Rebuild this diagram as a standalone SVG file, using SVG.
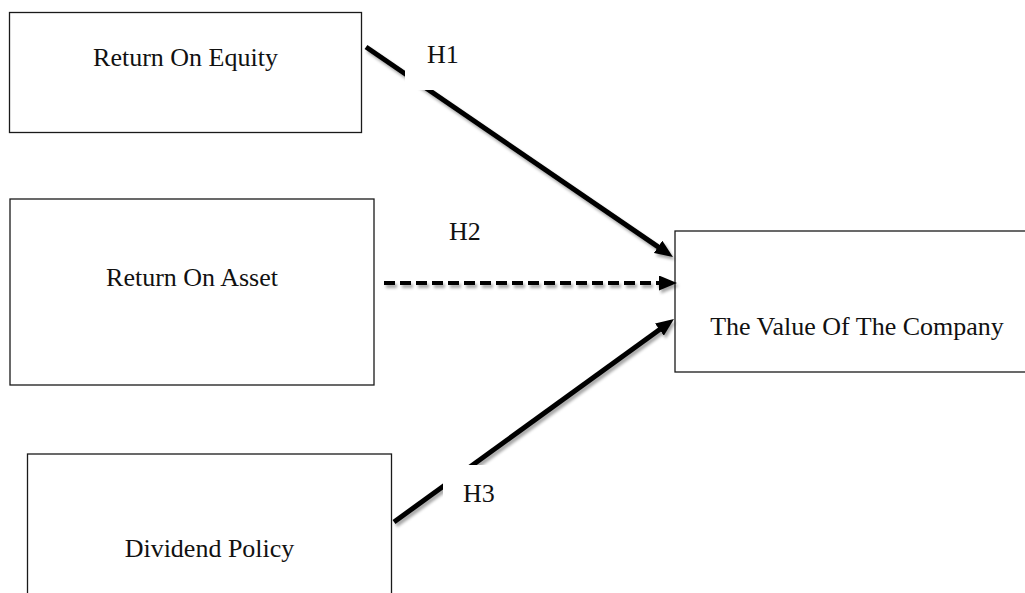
<svg xmlns="http://www.w3.org/2000/svg" width="1025" height="593" viewBox="0 0 1025 593">
  <style>
    .box { fill: #ffffff; stroke: #1a1a1a; stroke-width: 1.3; }
    .label { font-family: "Liberation Serif", "Times New Roman", serif; font-size: 26px; fill: #111111; }
    .conn { stroke: #000000; stroke-width: 5; fill: none; }
    .dashed { stroke: #000000; stroke-width: 4; fill: none; stroke-dasharray: 11 5; }
    .mask { fill: #ffffff; stroke: none; }
  </style>
  <defs>
    <filter id="shadow" x="-10%" y="-10%" width="130%" height="140%">
      <feDropShadow dx="2" dy="3" stdDeviation="1.6" flood-color="#000000" flood-opacity="0.35"/>
    </filter>
    <marker id="arrow" markerUnits="userSpaceOnUse" markerWidth="18" markerHeight="15" refX="8" refY="7.5" orient="auto">
      <path d="M0,0 L18,7.5 L0,15 z" fill="#000000"/>
    </marker>
  </defs>

  <rect width="1025" height="593" fill="#ffffff"/>

  <!-- source variables -->
  <g id="node-roe">
    <rect class="box" x="9.5" y="12.5" width="352" height="120"/>
    <text class="label" x="185.5" y="66" text-anchor="middle">Return On Equity</text>
  </g>
  <g id="node-roa">
    <rect class="box" x="10" y="199" width="364" height="186"/>
    <text class="label" x="192" y="286" text-anchor="middle">Return On Asset</text>
  </g>
  <g id="node-dividend">
    <rect class="box" x="27.5" y="454" width="364" height="160"/>
    <text class="label" x="209.5" y="557" text-anchor="middle">Dividend Policy</text>
  </g>

  <!-- dependent variable -->
  <g id="node-value">
    <rect class="box" x="675" y="231" width="370" height="141"/>
    <text class="label" x="857" y="335" text-anchor="middle">The Value Of The Company</text>
  </g>

  <!-- hypothesis paths -->
  <g id="connectors">
    <g filter="url(#shadow)">
      <path id="edge-h1" class="conn" d="M366,47 L664.7,251.4" marker-end="url(#arrow)"/>
      <path id="edge-h2" class="dashed" d="M384,283 L667,283" marker-end="url(#arrow)"/>
      <path id="edge-h3" class="conn" d="M394,522 L665.9,324.9" marker-end="url(#arrow)"/>
    </g>
    <!-- label backgrounds that break the lines -->
    <rect class="mask" x="405" y="28" width="80" height="62"/>
    <rect class="mask" x="443" y="465" width="75" height="50"/>
    <text class="label" x="427" y="63">H1</text>
    <text class="label" x="449" y="240">H2</text>
    <text class="label" x="463" y="502">H3</text>
  </g>
</svg>
